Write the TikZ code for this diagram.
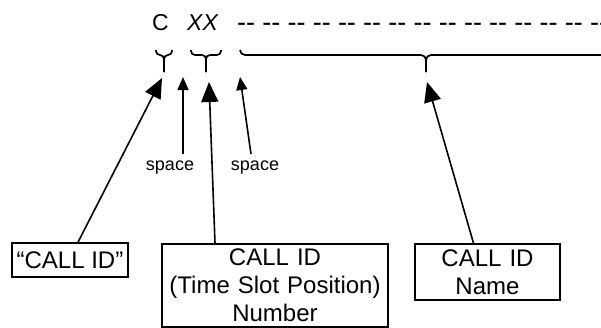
\documentclass[tikz,border=0pt]{standalone}
\usepackage{fontspec}
\setmainfont{Liberation Sans}
\usetikzlibrary{arrows.meta}

\begin{document}
\begin{tikzpicture}[x=1pt, y=-1pt,
    bigtip/.style={-{Triangle[length=20pt,width=17pt]}, line width=1.6pt},
    smalltip/.style={-{Triangle[length=13pt,width=11pt]}, line width=1.6pt},
    idbox/.style={draw, line width=1.6pt, inner sep=0pt, align=center, font=\fontsize{24}{28}\selectfont},
    bracepath/.style={line width=1.7pt, rounded corners=4pt},
    spacelabel/.style={inner sep=0pt, font=\fontsize{18}{20}\selectfont}]
    \useasboundingbox (0,0) rectangle (601,327);
    \clip (0,0) rectangle (601,327);

    % Kode pada baris atas
    \node[anchor=base west, inner sep=0pt, font=\fontsize{23}{26}\selectfont] (c) at (152,30) {C};
    \node[anchor=base west, inner sep=0pt, font=\fontsize{23}{26}\selectfont\itshape] (xx) at (187,30) {XX};
    \foreach \i in {0,...,14}
        \node[anchor=base west, inner sep=0pt, font=\fontsize{27}{30}\selectfont] (d\i) at ({237+25.2*\i},31) {-{}-};

    % Kurung kurawal di bawah kode
    \draw[bracepath] (156,50) -- (156,55) -- (164,55) -- (164,72);
    \draw[bracepath] (172,50) -- (172,55) -- (164,55) -- (164,72);
    \draw[bracepath] (191,50) -- (191,55) -- (206,55) -- (206,72);
    \draw[bracepath] (221,50) -- (221,55) -- (206,55) -- (206,72);
    \draw[line width=1.7pt, rounded corners=5pt] (240,50) -- (240,55) -- (426,55) -- (426,72);
    \draw[line width=1.7pt, rounded corners=5pt] (612,50) -- (612,55) -- (426,55) -- (426,72);

    % Ujung panah
    \coordinate (tipc) at (162,78);
    \coordinate (tipsa) at (183,77);
    \coordinate (tipxx) at (209,82);
    \coordinate (tipsb) at (240,77);
    \coordinate (tipname) at (427,82);

    % Kotak keterangan
    \node[idbox, minimum width=116pt, minimum height=34pt] (callid) at (70,260) {“CALL ID”};
    \node[idbox, anchor=north, text width=226pt, inner ysep=5pt] (slot) at (275,243) {CALL ID\\(Time Slot Position)\\Number};
    \node[idbox, text width=145pt, minimum height=56pt] (name) at (487.5,272) {CALL ID\\Name};

    % Label spasi
    \node[spacelabel, anchor=base] (spa) at (170,170) {space};
    \node[spacelabel, anchor=base] (spb) at (255,170) {space};

    % Panah penunjuk
    \draw[bigtip] ([xshift=8pt]callid.north) -- (tipc);
    \draw[smalltip] ([xshift=13pt,yshift=6pt]spa.north) -- (tipsa);
    \draw[bigtip] ([xshift=-60pt]slot.north) -- (tipxx);
    \draw[smalltip] ([xshift=-4pt,yshift=6pt]spb.north) -- (tipsb);
    \draw[bigtip] ([xshift=-14pt]name.north) -- (tipname);
\end{tikzpicture}
\end{document}
